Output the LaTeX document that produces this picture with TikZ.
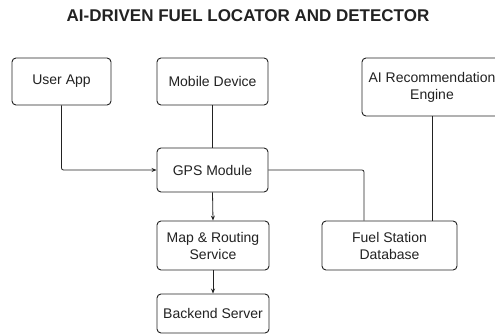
\documentclass[tikz,border=0pt]{standalone}
\usepackage{fontspec}
\setmainfont{Liberation Sans}
\usetikzlibrary{arrows.meta}
\definecolor{ink}{HTML}{222222}
\tikzset{
  box/.style={draw=ink, line width=0.9pt, rounded corners=4pt, align=center,
    font=\fontsize{14}{17}\selectfont, text=ink, inner sep=0pt},
  link/.style={draw=ink, line width=0.8pt, rounded corners=2pt},
  arr/.style={link, -{Stealth[length=5pt,width=4pt]}}
}
\begin{document}
\begin{tikzpicture}[x=1pt,y=-1pt]
\useasboundingbox[fill=white] (0,0) rectangle (495,336);
\node[font=\bfseries\fontsize{17}{20}\selectfont, text=ink] (title) at (248,16) {AI-DRIVEN FUEL LOCATOR AND DETECTOR};
\node[box, minimum width=99pt, minimum height=47pt] (ua) at (61.5,81.5) {User App};
\node[box, minimum width=111pt, minimum height=47pt] (md) at (212.5,81.5) {Mobile Device};
\node[box, minimum width=140pt, minimum height=58pt] (ai) at (432,87) {AI Recommendation\\Engine};
\node[box, minimum width=111pt, minimum height=44pt] (gps) at (212.5,170) {GPS Module};
\node[box, minimum width=112pt, minimum height=49pt] (map) at (213,245.5) {Map \& Routing\\Service};
\node[box, minimum width=112pt, minimum height=39pt] (be) at (213,313.5) {Backend Server};
\node[box, minimum width=135pt, minimum height=49pt] (db) at (389.5,245.5) {Fuel Station\\Database};
\draw[arr] (ua.south) |- (gps.west);
\draw[link] (md.south) -- (gps.north);
\draw[link] (gps.east) -| ([xshift=-25.5pt]db.north);
\draw[link] (ai.south) -- (ai.south |- db.north);
\draw[arr] (gps.south) -- (map.north);
\draw[arr] (map.south) -- (be.north);
\end{tikzpicture}
\end{document}
